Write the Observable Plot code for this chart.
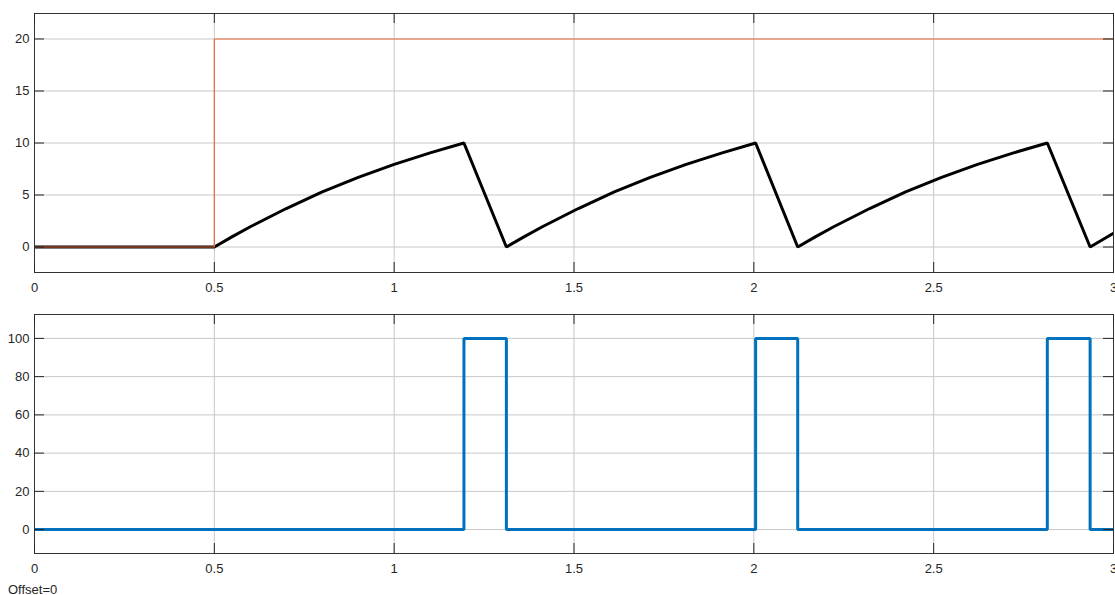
<!DOCTYPE html>
<html>
<head>
<meta charset="utf-8">
<script src="https://cdn.jsdelivr.net/npm/d3@7"></script>
<script src="https://cdn.jsdelivr.net/npm/@observablehq/plot@0.6"></script>
<style>
  html, body { margin: 0; padding: 0; background: #fff; overflow: hidden; }
  #chart svg { display: block; }
  #offset { font-family: "Liberation Sans", Arial, sans-serif; font-size: 13px; color: #262626; padding-left: 8px; line-height: 15px; margin-top: 2px; }
</style>
</head>
<body>
<div id="chart"></div>
<div id="offset">Offset=0</div>
<script>
// ---- data ----
const xTicks = [0, 0.5, 1, 1.5, 2, 2.5, 3];
const xTickLabels = ["0", "0.5", "1", "1.5", "2", "2.5", "3"];
const topYTicks = [0, 5, 10, 15, 20];
const topYTickLabels = ["0", "5", "10", "15", "20"];
const botYTicks = [0, 20, 40, 60, 80, 100];
const botYTickLabels = ["0", "20", "40", "60", "80", "100"];

// reference (orange) step signal: value changes at these times
const refT = [0, 0.5, 3];
const refV = [0, 20, 20];

// black sawtooth-like signal
const sawT = [0, 0.5, 0.55, 0.6, 0.7, 0.8, 0.9, 1.0, 1.1, 1.194,
              1.312, 1.362, 1.412, 1.512, 1.612, 1.712, 1.812, 1.912, 2.005,
              2.122, 2.172, 2.222, 2.322, 2.422, 2.522, 2.622, 2.722, 2.816,
              2.935, 3.0];
const sawV = [0, 0, 1.0, 1.95, 3.7, 5.3, 6.7, 7.95, 9.05, 10,
              0, 1.0, 1.95, 3.7, 5.3, 6.7, 7.95, 9.05, 10,
              0, 1.0, 1.95, 3.7, 5.3, 6.7, 7.95, 9.05, 10,
              0, 1.32];

// blue pulse signal (step-after change points)
const pwmT = [0, 1.194, 1.312, 2.005, 2.122, 2.816, 2.935, 3];
const pwmV = [0, 100, 0, 100, 0, 100, 0, 0];

// ---- tables ----
const refData = refT.map((t, i) => ({t, v: refV[i]}));
const sawData = sawT.map((t, i) => ({t, v: sawV[i]}));
const pwmData = pwmT.map((t, i) => ({t, v: pwmV[i]}));

// ---- layout ----
const W = 1115, ML = 34, MR = 2, TICK = 10;
const frameW = W - ML - MR;
const axisColor = "#262626";
const gridColor = "#c8c8c8";
const font = {fontFamily: "'Liberation Sans', Arial, sans-serif", fontSize: "13px", color: axisColor, background: "#fff", overflow: "hidden"};

function panel({height, marginTop, marginBottom, yDomain, yTicks, yLabels, lines}) {
  const frameH = height - marginTop - marginBottom;
  const lab = (ticks, labels) => d => labels[ticks.indexOf(d)];
  return Plot.plot({
    width: W, height, marginLeft: ML, marginRight: MR, marginTop, marginBottom,
    style: font,
    x: {domain: [0, 3], label: null},
    y: {domain: yDomain, label: null},
    marks: [
      Plot.ruleX(xTicks, {x: d => d, stroke: gridColor, strokeWidth: 1}),
      Plot.ruleY(yTicks, {y: d => d, stroke: gridColor, strokeWidth: 1}),
      ...lines,
      Plot.frame({stroke: "#333", strokeWidth: 1}),
      // inward ticks on all four sides
      Plot.ruleX(xTicks, {x: d => d, stroke: axisColor, insetTop: frameH - TICK}),
      Plot.ruleX(xTicks, {x: d => d, stroke: axisColor, insetBottom: frameH - TICK}),
      Plot.ruleY(yTicks, {y: d => d, stroke: axisColor, insetRight: frameW - TICK}),
      Plot.ruleY(yTicks, {y: d => d, stroke: axisColor, insetLeft: frameW - TICK}),
      Plot.axisX(xTicks, {anchor: "bottom", tickSize: 0, tickPadding: 10, tickFormat: lab(xTicks, xTickLabels), label: null, fill: axisColor}),
      Plot.axisY(yTicks, {anchor: "left", tickSize: 0, tickPadding: 5, tickFormat: lab(yTicks, yLabels), label: null, fill: axisColor})
    ]
  });
}

const topPanel = panel({
  height: 298, marginTop: 13, marginBottom: 26,
  yDomain: [-2.45, 22.45], yTicks: topYTicks, yLabels: topYTickLabels,
  lines: [
    Plot.line(sawData, {x: "t", y: "v", stroke: "#000", strokeWidth: 3, strokeLinejoin: "miter", clip: true}),
    Plot.line(refData, {x: "t", y: "v", curve: "step-after", stroke: "#EA6A3C", strokeWidth: 1.2, strokeLinejoin: "miter", clip: true})
  ]
});

const bottomPanel = panel({
  height: 282, marginTop: 16, marginBottom: 27,
  yDomain: [-12.5, 112.5], yTicks: botYTicks, yLabels: botYTickLabels,
  lines: [
    Plot.line(pwmData, {x: "t", y: "v", curve: "step-after", stroke: "#0072BD", strokeWidth: 3, strokeLinejoin: "miter", clip: true})
  ]
});

const chart = document.getElementById("chart");
chart.appendChild(topPanel);
chart.appendChild(bottomPanel);
</script>
</body>
</html>
